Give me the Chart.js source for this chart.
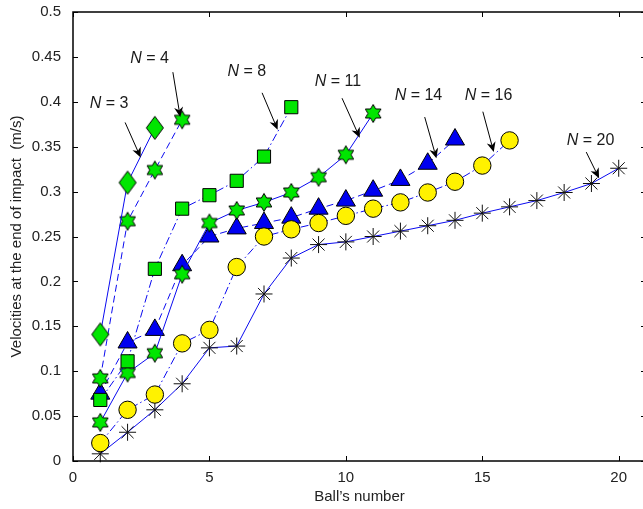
<!DOCTYPE html>
<html>
<head>
<meta charset="utf-8">
<script src="https://cdn.jsdelivr.net/npm/chart.js@4/dist/chart.umd.min.js"></script>
<style>
  html, body { margin: 0; padding: 0; background: #fff; overflow: hidden; }
  #chart { display: block; }
</style>
</head>
<body>
<canvas id="chart" width="658" height="509"></canvas>
<script>
// ball numbers along the chain
const ballNumbers = [1, 2, 3, 4, 5, 6, 7, 8, 9, 10, 11, 12, 13, 14, 15, 16, 17, 18, 19, 20];

// end-of-impact velocity (m/s) of each ball, one list per chain length N
const velN3  = [0.141, 0.310, 0.371];
const velN4  = [0.092, 0.267, 0.324, 0.380];
const velN8  = [0.068, 0.111, 0.214, 0.281, 0.296, 0.312, 0.339, 0.394];
const velN11 = [0.043, 0.098, 0.120, 0.208, 0.265, 0.279, 0.288, 0.299, 0.316, 0.341, 0.387];
const velN14 = [0.075, 0.132, 0.146, 0.218, 0.250, 0.259, 0.265, 0.271, 0.281, 0.290, 0.301, 0.313, 0.331, 0.358];
const velN16 = [0.020, 0.057, 0.074, 0.131, 0.146, 0.216, 0.250, 0.258, 0.265, 0.273, 0.281, 0.288, 0.299, 0.311, 0.329, 0.357];
const velN20 = [0.008, 0.032, 0.057, 0.086, 0.126, 0.128, 0.186, 0.226, 0.241, 0.244, 0.250, 0.256, 0.262, 0.268, 0.276, 0.283, 0.290, 0.299, 0.309, 0.326];

const xTicks = [0, 5, 10, 15, 20];

// "N = .." callouts: label spot and arrow tail/head, in axis units
const callouts = [
  { n: '3',  tx: 1.32,  ty: 0.398, ax: 1.91,  ay: 0.377, bx: 2.48,  by: 0.338 },
  { n: '4',  tx: 2.81,  ty: 0.448, ax: 3.66,  ay: 0.433, bx: 3.93,  by: 0.383 },
  { n: '8',  tx: 6.37,  ty: 0.434, ax: 6.93,  ay: 0.410, bx: 7.50,  by: 0.369 },
  { n: '11', tx: 9.71,  ty: 0.423, ax: 9.86,  ay: 0.404, bx: 10.51, by: 0.360 },
  { n: '14', tx: 12.66, ty: 0.407, ax: 12.89, ay: 0.383, bx: 13.32, by: 0.337 },
  { n: '16', tx: 15.23, ty: 0.407, ax: 15.02, ay: 0.389, bx: 15.42, by: 0.344 },
  { n: '20', tx: 18.97, ty: 0.357, ax: 18.81, ay: 0.344, bx: 19.28, by: 0.315 }
];

const BLUE = '#0a0af0';
const GREEN = '#00e600';
const YELLOW = '#fff200';
const FONT = '"Liberation Sans", Arial, Helvetica, sans-serif';

function toPoints(vals) {
  return vals.map((v, i) => ({ x: ballNumbers[i], y: v }));
}

// marker sprites that Chart.js has no built-in style for
function makeMarker(w, h, drawPath) {
  const c = document.createElement('canvas');
  c.width = w; c.height = h;
  const g = c.getContext('2d');
  g.beginPath();
  drawPath(g, w / 2, h / 2);
  g.closePath();
  g.fillStyle = GREEN;
  g.fill();
  g.lineWidth = 1;
  g.strokeStyle = '#000';
  g.stroke();
  return c;
}

const diamond = makeMarker(20, 26, (g, cx, cy) => {
  g.moveTo(cx, cy - 11.5);
  g.lineTo(cx + 8.5, cy);
  g.lineTo(cx, cy + 11.5);
  g.lineTo(cx - 8.5, cy);
});

const hexagram = makeMarker(20, 21, (g, cx, cy) => {
  const ro = 9, ri = ro / Math.sqrt(3);
  for (let k = 0; k < 12; k++) {
    const r = k % 2 ? ri : ro;
    const a = -Math.PI / 2 + k * Math.PI / 6;
    const px = cx + r * Math.cos(a), py = cy + r * Math.sin(a);
    if (k === 0) g.moveTo(px, py); else g.lineTo(px, py);
  }
});

function series(vals, dash, style, extra) {
  return Object.assign({
    data: toPoints(vals),
    showLine: true,
    borderColor: BLUE,
    borderWidth: 1,
    borderDash: dash,
    pointStyle: style,
    pointBorderColor: '#000',
    pointBorderWidth: 1,
    pointHoverRadius: 0,
    clip: false
  }, extra);
}

const dashed = [7, 4];
const dashDot = [8, 3, 1.5, 3];

const datasets = [
  series(velN3,  [],      diamond,    { order: 0 }),
  series(velN4,  dashed,  hexagram,   { order: 1 }),
  series(velN8,  dashDot, 'rect',     { order: 2, pointRadius: 9.3, pointBackgroundColor: GREEN }),
  series(velN11, [],      hexagram,   { order: 3 }),
  series(velN14, dashed,  'triangle', { order: 5, pointRadius: 11, pointBackgroundColor: '#0000f0' }),
  series(velN16, dashDot, 'circle',   { order: 4, pointRadius: 8.7, pointBackgroundColor: YELLOW }),
  series(velN20, [],      'star',     { order: 6, pointRadius: 8.5, pointBorderColor: '#111' })
];

// box around the plot with inward ticks on all four sides, plus the callouts
const framePlugin = {
  id: 'frame',
  afterDraw(chart) {
    const { ctx, chartArea: a, scales: { x, y } } = chart;
    ctx.save();
    ctx.strokeStyle = '#000';
    ctx.lineWidth = 1;
    ctx.beginPath();
    xTicks.forEach(t => {
      const px = Math.round(x.getPixelForValue(t)) + 0.5;
      ctx.moveTo(px, a.bottom); ctx.lineTo(px, a.bottom - 5);
      ctx.moveTo(px, a.top); ctx.lineTo(px, a.top + 5);
    });
    y.ticks.forEach(t => {
      const py = Math.round(y.getPixelForValue(t.value)) + 0.5;
      ctx.moveTo(a.left, py); ctx.lineTo(a.left + 5, py);
      ctx.moveTo(a.right, py); ctx.lineTo(a.right - 5, py);
    });
    ctx.stroke();
    ctx.lineWidth = 1.5;
    ctx.strokeRect(a.left, a.top, a.right - a.left, a.bottom - a.top);

    // callouts
    ctx.fillStyle = '#1a1a1a';
    ctx.strokeStyle = '#000';
    ctx.textBaseline = 'middle';
    callouts.forEach(c => {
      const italic = 'italic 16px ' + FONT;
      const plain = '16px ' + FONT;
      const rest = ' = ' + c.n;
      ctx.font = italic;
      const wN = ctx.measureText('N').width;
      ctx.font = plain;
      const wR = ctx.measureText(rest).width;
      const tx = x.getPixelForValue(c.tx) - (wN + wR) / 2;
      const ty = y.getPixelForValue(c.ty);
      ctx.textAlign = 'left';
      ctx.font = italic;
      ctx.fillText('N', tx, ty);
      ctx.font = plain;
      ctx.fillText(rest, tx + wN, ty);

      const x0 = x.getPixelForValue(c.ax), y0 = y.getPixelForValue(c.ay);
      const x1 = x.getPixelForValue(c.bx), y1 = y.getPixelForValue(c.by);
      const ang = Math.atan2(y1 - y0, x1 - x0);
      const cos = Math.cos(ang), sin = Math.sin(ang);
      const hl = 10, hw = 4.5, notch = 7;
      ctx.lineWidth = 1;
      ctx.beginPath();
      ctx.moveTo(x0, y0);
      ctx.lineTo(x1 - notch * cos, y1 - notch * sin);
      ctx.stroke();
      ctx.beginPath();
      ctx.moveTo(x1, y1);
      ctx.lineTo(x1 - hl * cos - hw * sin, y1 - hl * sin + hw * cos);
      ctx.lineTo(x1 - notch * cos, y1 - notch * sin);
      ctx.lineTo(x1 - hl * cos + hw * sin, y1 - hl * sin - hw * cos);
      ctx.closePath();
      ctx.fillStyle = '#000';
      ctx.fill();
      ctx.fillStyle = '#1a1a1a';
    });
    ctx.restore();
  }
};

new Chart(document.getElementById('chart'), {
  type: 'scatter',
  data: { datasets },
  options: {
    responsive: false,
    animation: false,
    events: [],
    layout: { padding: { top: 10, right: 0, bottom: 0, left: 0 } },
    plugins: {
      legend: { display: false },
      tooltip: { enabled: false }
    },
    scales: {
      x: {
        type: 'linear',
        min: 0,
        max: 21,
        grid: { display: false, drawTicks: false },
        border: { display: false },
        ticks: {
          stepSize: 5,
          padding: 8,
          color: '#222',
          font: { family: FONT, size: 15 },
          maxRotation: 0,
          callback: v => String(v)
        },
        afterBuildTicks: s => { s.ticks = xTicks.map(v => ({ value: v })); },
        afterFit: s => { s.height = 48; s.paddingRight = 0; s.paddingLeft = 0; },
        title: {
          display: true,
          text: 'Ball’s number',
          color: '#222',
          font: { family: FONT, size: 15 },
          padding: { top: 0, bottom: 3 }
        }
      },
      y: {
        min: 0,
        max: 0.5,
        grid: { display: false, drawTicks: false },
        border: { display: false },
        ticks: {
          stepSize: 0.05,
          padding: 12,
          color: '#222',
          font: { family: FONT, size: 15 },
          callback: v => String(+v.toFixed(2))
        },
        afterFit: s => { s.width = 73; s.paddingTop = 0; s.paddingBottom = 0; },
        title: {
          display: true,
          text: 'Velocities at the end of impact  (m/s)',
          color: '#222',
          font: { family: FONT, size: 15 },
          padding: { top: 8, bottom: 0 }
        }
      }
    }
  },
  plugins: [framePlugin]
});
</script>
</body>
</html>
